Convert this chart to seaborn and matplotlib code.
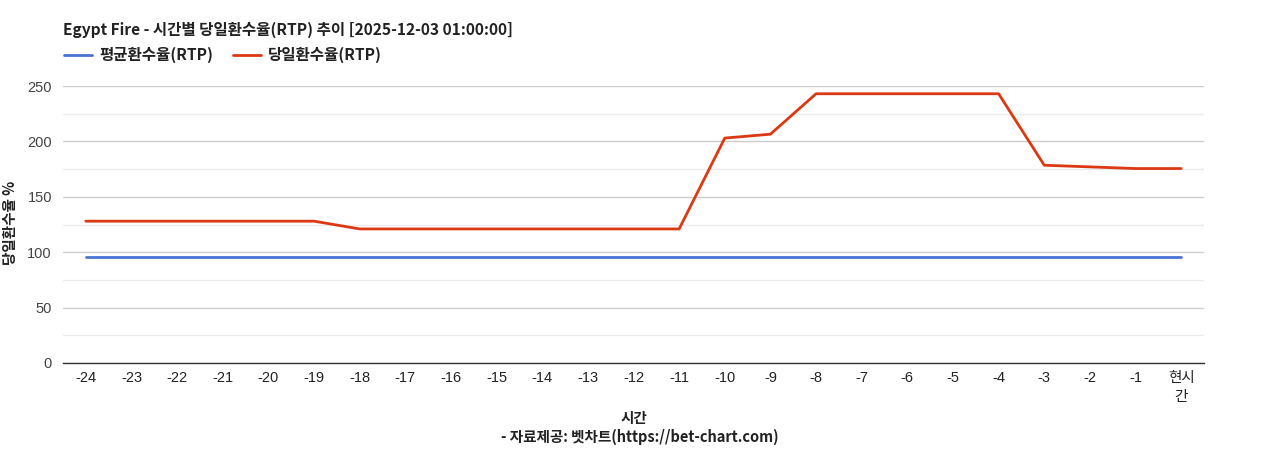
import matplotlib
matplotlib.use("Agg")
import matplotlib.pyplot as plt
import seaborn as sns
import pandas as pd
import numpy as np
from matplotlib.lines import Line2D

sns.set_theme(style="white")
plt.rcParams['font.family'] = ['Noto Sans CJK KR', 'DejaVu Sans']

categories = ["-24", "-23", "-22", "-21", "-20", "-19", "-18", "-17", "-16", "-15", "-14", "-13",
              "-12", "-11", "-10", "-9", "-8", "-7", "-6", "-5", "-4", "-3", "-2", "-1", "현시\n간"]
avg_rtp = [96] * 25
day_rtp = [128, 128, 128, 128, 128, 128, 121, 121, 121, 121, 121, 121, 121, 121,
           203, 206.5, 243, 243, 243, 243, 243, 178.5, 177, 175.5, 175.5]

df = pd.DataFrame({"x": np.arange(len(categories)), "avg": avg_rtp, "day": day_rtp})

W, H = 1268, 450
fig = plt.figure(figsize=(W / 100, H / 100), dpi=100)
ax = fig.add_axes([63 / W, 1 - 363 / H, (1204 - 63) / W, (363 - 86) / H])

blue = "#4a72d6"
red = "#dc3912"
sns.lineplot(data=df, x="x", y="avg", ax=ax, color=blue, linewidth=2)
sns.lineplot(data=df, x="x", y="day", ax=ax, color=red, linewidth=2)

tick_family = ['Liberation Sans', 'Noto Sans CJK KR']
ax.set_xlim(-0.5, len(categories) - 0.5)
ax.set_ylim(0, 250)
ax.set_yticks([0, 50, 100, 150, 200, 250])
ax.set_yticks([25, 75, 125, 175, 225], minor=True)
ax.grid(axis="y", which="major", color="#cccccc", linewidth=1)
ax.grid(axis="y", which="minor", color="#ebebeb", linewidth=1)
ax.set_axisbelow(True)
ax.set_xticks(df["x"])
ax.set_xticklabels(categories, fontsize=10.5, color="#222222", linespacing=1.45, family=tick_family)
for t in ax.get_yticklabels():
    t.set_family(tick_family)
ax.tick_params(axis="y", labelsize=10.5, colors="#444444", length=0, pad=8)
ax.tick_params(axis="x", length=0, pad=6)
for s in ["top", "right", "left"]:
    ax.spines[s].set_visible(False)
ax.spines["bottom"].set_color("#333333")
ax.spines["bottom"].set_linewidth(1)

ax.set_xlabel("시간", fontsize=10.5, fontweight="bold", color="#222222", labelpad=4)
ax.set_ylabel("당일환수율 %", fontsize=10.5, fontweight="bold", color="#222222")
ax.yaxis.set_label_coords((18 - 63) / (1204 - 63), (363 - 223) / (363 - 86))
fig.text(0.5 * (63 + 1204) / W + 0.005, 1 - 437 / H, "- 자료제공: 벳차트(https://bet-chart.com)",
         ha="center", va="center", fontsize=10.5, fontweight="bold", color="#222222")

fig.text(63 / W, 1 - 30 / H, "Egypt Fire - 시간별 당일환수율(RTP) 추이 [2025-12-03 01:00:00]",
         ha="left", va="center", fontsize=11.2, fontweight="bold", color="#222222")

handles = [Line2D([0], [0], color=blue, lw=2), Line2D([0], [0], color=red, lw=2)]
leg = fig.legend(handles, ["평균환수율(RTP)", "당일환수율(RTP)"], loc="center left",
                 bbox_to_anchor=(50 / W, 1 - 55 / H), ncol=2, frameon=False,
                 prop={"size": 11.2, "weight": "bold"}, handlelength=1.8,
                 columnspacing=1.3, handletextpad=0.45)
for t in leg.get_texts():
    t.set_color("#222222")

fig.savefig("out.png", dpi=100)
